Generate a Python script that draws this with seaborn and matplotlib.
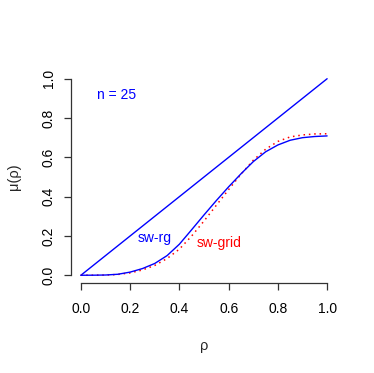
import numpy as np
import pandas as pd
import matplotlib
matplotlib.use("Agg")
import matplotlib.pyplot as plt
import seaborn as sns

rho = [0, 0.05, 0.1, 0.15, 0.2, 0.25, 0.3, 0.35, 0.4, 0.45, 0.5, 0.55, 0.6, 0.65, 0.7, 0.75, 0.8, 0.85, 0.9, 0.95, 1.0]
sw_rg = [0, 0.0003, 0.0012, 0.005, 0.016, 0.034, 0.06, 0.10, 0.158, 0.232, 0.307, 0.380, 0.450, 0.516, 0.578, 0.628, 0.663, 0.687, 0.700, 0.706, 0.709]
sw_grid = [0, 0.0002, 0.0009, 0.004, 0.012, 0.027, 0.05, 0.085, 0.133, 0.20, 0.276, 0.356, 0.436, 0.514, 0.585, 0.641, 0.681, 0.704, 0.714, 0.719, 0.720]
diag_x = [0, 1]
diag_y = [0, 1]
ticks = [0.0, 0.2, 0.4, 0.6, 0.8, 1.0]
tick_labels = ["0.0", "0.2", "0.4", "0.6", "0.8", "1.0"]

sns.set_style("white")
plt.rcParams['font.family'] = ['Liberation Sans', 'DejaVu Sans']

fig = plt.figure(figsize=(3.74, 3.73), dpi=100)
ax = fig.add_axes([0.190, 0.241, 0.711, 0.569])

sns.lineplot(x=diag_x, y=diag_y, ax=ax, color="#0000FF", lw=1.0)
sns.lineplot(x=rho, y=sw_grid, ax=ax, color="#FF0000", lw=1.1, linestyle=(0, (1, 2.5)))
sns.lineplot(x=rho, y=sw_rg, ax=ax, color="#0000FF", lw=1.0)

ax.set_xlim(-0.04, 1.04)
ax.set_ylim(-0.04, 1.04)
for s in ["top", "right"]:
    ax.spines[s].set_visible(False)
ax.spines["left"].set_bounds(0, 1)
ax.spines["bottom"].set_bounds(0, 1)
for s in ["left", "bottom"]:
    ax.spines[s].set_color("#333333")
    ax.spines[s].set_linewidth(0.9)

ax.set_xticks(ticks)
ax.set_xticklabels(tick_labels)
ax.set_yticks(ticks)
ax.set_yticklabels(tick_labels, rotation=90, va="center")
ax.tick_params(axis="both", direction="out", length=5, width=0.9, color="#333333",
               labelsize=10, labelcolor="black", left=True, bottom=True)
ax.tick_params(axis="x", pad=8.5)
ax.tick_params(axis="y", pad=6)

ax.set_xlabel("ρ", fontsize=10.5, labelpad=17)
ax.set_ylabel("μ(ρ)", fontsize=10.5, labelpad=15)

ax.text(0.146, 0.918, "n = 25", color="#0000FF", fontsize=10, ha="center", va="center")
ax.text(0.30, 0.19, "sw-rg", color="#0000FF", fontsize=10, ha="center", va="center")
ax.text(0.56, 0.163, "sw-grid", color="#FF0000", fontsize=10, ha="center", va="center")

fig.savefig("out.png", dpi=100)
